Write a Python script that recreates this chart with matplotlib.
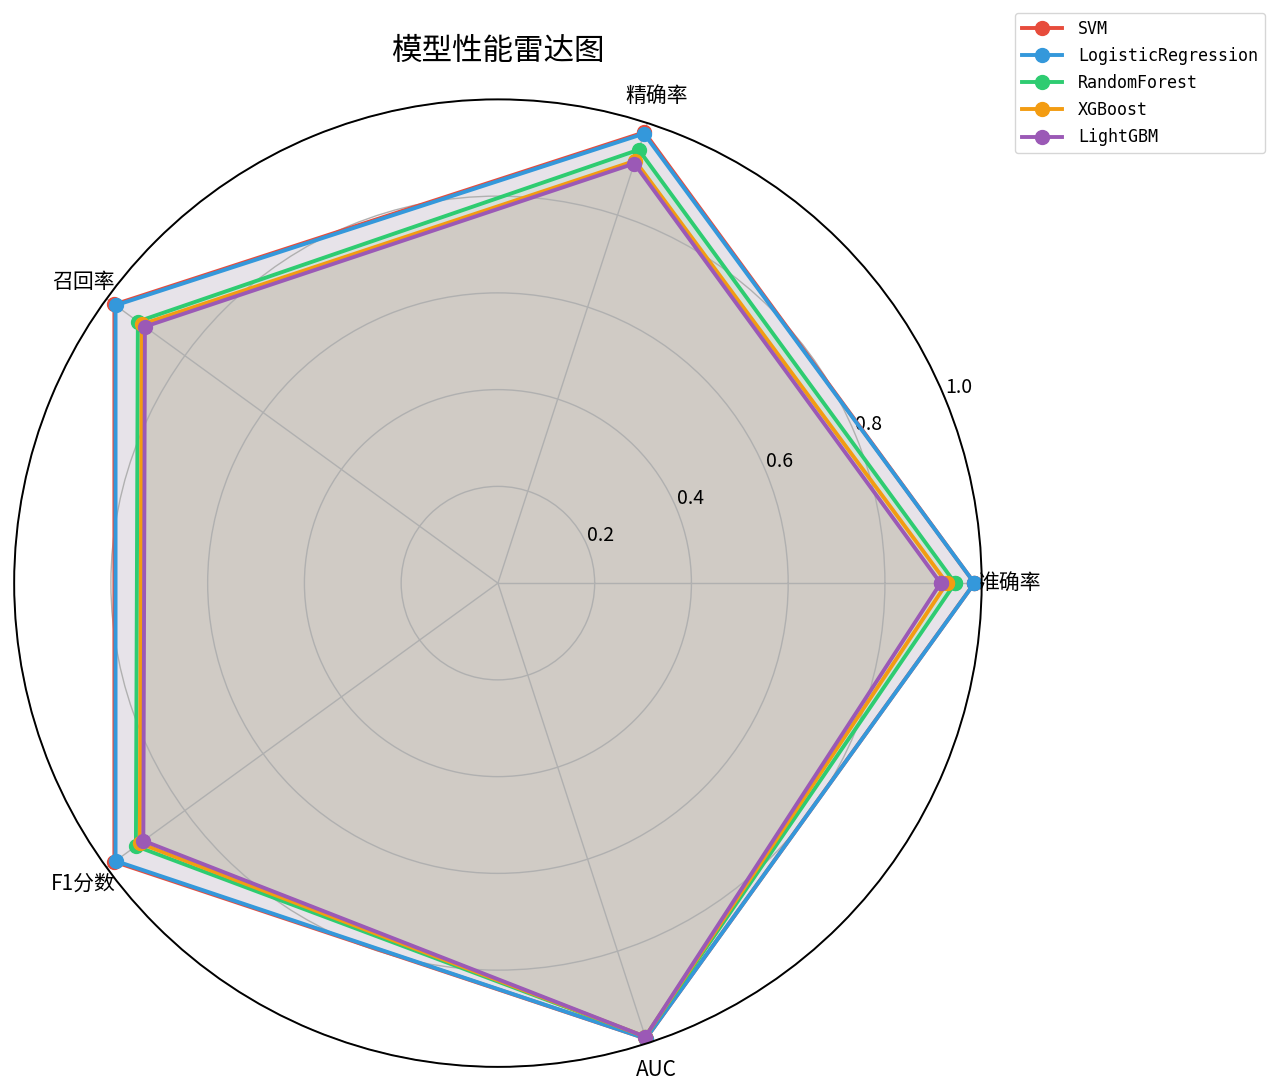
import numpy as np
import matplotlib
matplotlib.use("Agg")
import matplotlib.pyplot as plt

plt.rcParams['font.family'] = ['Noto Sans CJK SC', 'DejaVu Sans']
plt.rcParams['axes.unicode_minus'] = False

# metrics (axes of the radar)
metrics = ["准确率", "精确率", "召回率", "F1分数", "AUC"]
models = ["SVM", "LogisticRegression", "RandomForest", "XGBoost", "LightGBM"]
colors = ["#e74c3c", "#3498db", "#2ecc71", "#f39c12", "#9b59b6"]

svm_scores = [0.985, 0.980, 0.980, 0.980, 0.990]
lr_scores = [0.985, 0.977, 0.977, 0.977, 0.990]
rf_scores = [0.945, 0.942, 0.920, 0.925, 0.986]
xgb_scores = [0.928, 0.918, 0.910, 0.915, 0.986]
lgbm_scores = [0.915, 0.912, 0.902, 0.906, 0.986]
scores = [svm_scores, lr_scores, rf_scores, xgb_scores, lgbm_scores]

angles = np.linspace(0, 2 * np.pi, len(metrics), endpoint=False).tolist()
angles += angles[:1]

fig = plt.figure(figsize=(12.8, 10.92), dpi=100)
ax = fig.add_axes([0.011, 0.023, 0.756, 0.886], polar=True)

for name, vals, c in zip(models, scores, colors):
    v = vals + vals[:1]
    ax.plot(angles, v, "o-", color=c, linewidth=2.8, markersize=10, label=name)
    ax.fill(angles, v, color=c, alpha=0.1)

ax.set_xticks(angles[:-1])
ax.set_xticklabels(metrics, fontsize=15)
ax.tick_params(axis="x", pad=10)
ax.set_ylim(0, 1)
ax.set_yticks([0.2, 0.4, 0.6, 0.8, 1.0])
ax.set_yticklabels(["0.2", "0.4", "0.6", "0.8", "1.0"], fontsize=14)
ax.grid(True, color="#b0b0b0", linewidth=1.0)
ax.spines["polar"].set_linewidth(1.4)
ax.set_title("模型性能雷达图", fontsize=22, pad=28)

ax.legend(loc="upper right", bbox_to_anchor=(1265 / 1280, 1 - 13 / 1092),
          bbox_transform=fig.transFigure, borderaxespad=0,
          prop={"family": "DejaVu Sans Mono", "size": 12},
          handlelength=2.4, handletextpad=1.0, labelspacing=0.55)

fig.savefig("out.png", dpi=100)
